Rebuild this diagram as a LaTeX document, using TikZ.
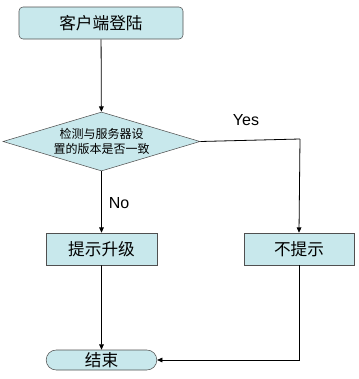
\documentclass[tikz,border=0pt]{standalone}
\usepackage{fontspec}
\setmainfont{Liberation Sans}
\newfontfamily\cjk{Noto Sans CJK SC}
\usetikzlibrary{arrows.meta,shapes.geometric,shapes.misc}
\definecolor{boxfill}{RGB}{200,232,236}
\definecolor{boxline}{RGB}{80,80,80}

\begin{document}
\begin{tikzpicture}[x=0.75pt,y=-0.75pt,
  every node/.style={font=\cjk\fontsize{12.5}{14}\selectfont},
  procbox/.style={draw=boxline,fill=boxfill,minimum width=83pt,minimum height=24pt,inner sep=0pt},
  flow/.style={-{Triangle[length=4pt,width=3.5pt]},line width=0.6pt}]
\useasboundingbox (0,0) rectangle (358,379);
\node[procbox,rounded corners=3pt,minimum width=123pt] (login) at (101,23) {客户端登陆};
\node[draw=boxline,fill=boxfill,diamond,aspect=3.3,inner sep=0pt,minimum width=147.75pt,minimum height=44.25pt,
  align=center,font=\cjk\fontsize{9}{11}\selectfont] (check) at (101.5,141.5) {检测与服务器设\\置的版本是否一致};
\node[procbox] (upgrade) at (101.5,249) {提示升级};
\node[procbox,minimum width=82.5pt] (skip) at (299,249) {不提示};
\node[draw=boxline,fill=boxfill,rounded rectangle,minimum width=83pt,minimum height=15pt,inner sep=0pt] (finish) at (101.5,360) {结束};
\coordinate (yesturn) at (300,139);
% connectors
\draw[flow] (login) -- (check);
\draw[line width=0.6pt] (check.east) -- (yesturn);
\draw[flow] (yesturn) -- (skip.north);
\draw[flow] (check) -- (upgrade);
\draw[flow] (upgrade) -- (finish);
\draw[flow] (skip.south) |- (finish.east);
\node[font=\fontsize{12}{14}\selectfont] (yeslabel) at (246,120) {Yes};
\node[font=\fontsize{12}{14}\selectfont] (nolabel) at (119,203) {No};
\end{tikzpicture}
\end{document}
